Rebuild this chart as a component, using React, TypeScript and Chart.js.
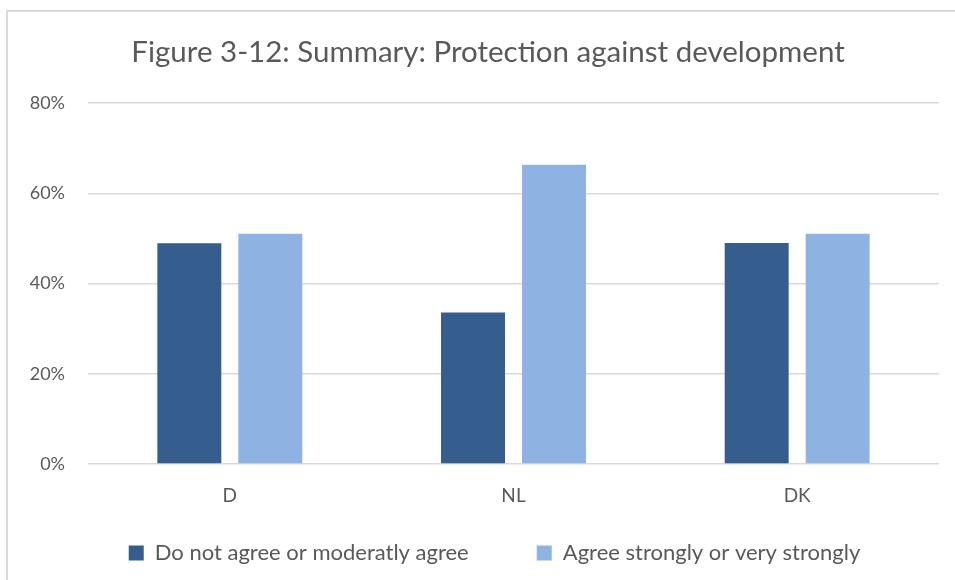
import React, { useEffect, useRef } from "react";
import { Chart, registerables } from "chart.js";

Chart.register(...registerables);

const TITLE = "Figure 3-12: Summary: Protection against development";
const CATEGORIES = ["D", "NL", "DK"];
const SERIES_NAMES = ["Do not agree or moderatly agree", "Agree strongly or very strongly"];
const DISAGREE = [48.9, 33.6, 49.0];
const AGREE = [51.0, 66.3, 51.0];
const Y_MAX = 80;
const Y_STEP = 20;

const DARK = "#355E8E";
const LIGHT = "#8EB3E2";
const TEXT = "#595959";
const GRID = "#d9d9d9";
const FONT = "Lato, 'Open Sans', sans-serif";

// shifts boxes after layout so the title and legend sit where the reference has them
const placeBoxes = {
  id: "placeBoxes",
  afterLayout(chart: any) {
    const t = chart.titleBlock;
    if (t) {
      t.left += 18.5;
      t.right += 18.5;
    }
    const l = chart.legend;
    if (l) {
      l.left += 25;
      l.right += 25;
      l.top = 474;
      l.bottom = 580;
      l.height = l.bottom - l.top;
    }
  },
};

export default function App() {
  const ref = useRef<HTMLCanvasElement | null>(null);

  useEffect(() => {
    if (!ref.current) return;
    const chart = new Chart(ref.current, {
      type: "bar",
      data: {
        labels: CATEGORIES,
        datasets: [
          {
            label: SERIES_NAMES[0],
            data: DISAGREE,
            backgroundColor: DARK,
            categoryPercentage: 0.571,
            barPercentage: 0.79,
          },
          {
            label: SERIES_NAMES[1],
            data: AGREE,
            backgroundColor: LIGHT,
            categoryPercentage: 0.571,
            barPercentage: 0.79,
          },
        ],
      },
      plugins: [placeBoxes],
      options: {
        responsive: false,
        animation: false,
        layout: { padding: { top: 0, left: 0, right: 16, bottom: 31 } },
        plugins: {
          title: {
            display: true,
            text: TITLE,
            color: TEXT,
            font: { family: FONT, size: 29.5, weight: "normal" },
            padding: { top: 34.3, bottom: 33.3 },
          },
          legend: {
            display: true,
            position: "bottom",
            maxHeight: 40,
            labels: {
              color: TEXT,
              font: { family: FONT, size: 22 },
              boxWidth: 15,
              boxHeight: 15,
              padding: 68,
            },
          },
          tooltip: { enabled: false },
        },
        scales: {
          x: {
            grid: { display: false, drawTicks: false },
            border: { display: false },
            ticks: {
              color: TEXT,
              font: { family: FONT, size: 19 },
              padding: 20,
            },
            afterFit: (scale: any) => {
              scale.height = 45;
            },
          },
          y: {
            min: 0,
            max: Y_MAX,
            grid: { color: GRID, lineWidth: 1.5, drawTicks: false },
            border: { display: false },
            ticks: {
              stepSize: Y_STEP,
              color: TEXT,
              font: { family: FONT, size: 18 },
              padding: 23,
              callback: (v: any) => `${v}%`,
            },
            afterFit: (scale: any) => {
              scale.width = 88;
            },
          },
        },
      },
    });
    return () => chart.destroy();
  }, []);

  return (
    <div style={{ position: "absolute", left: 0, top: 0, width: 955, height: 580, overflow: "hidden", background: "#fff" }}>
      <div
        style={{
          position: "absolute",
          left: 6,
          top: 10,
          width: 960,
          height: 600,
          borderLeft: "2px solid #d9d9d9",
          borderTop: "2px solid #d9d9d9",
        }}
      />
      <canvas ref={ref} width={955} height={580} style={{ position: "absolute", left: 0, top: 0, display: "block" }} />
    </div>
  );
}
